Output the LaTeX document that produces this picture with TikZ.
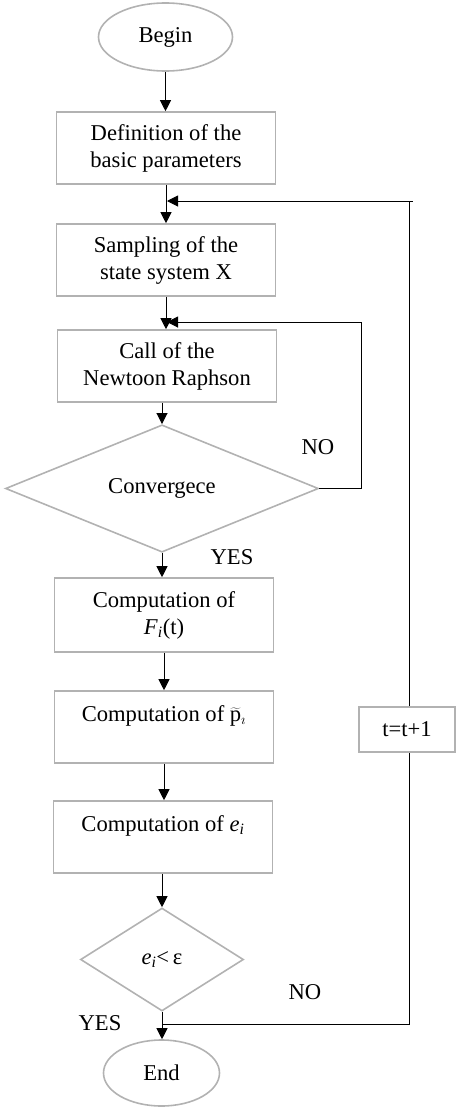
\documentclass[tikz,border=0pt]{standalone}
\usepackage{fontspec}
\setmainfont{Liberation Serif}
\usetikzlibrary{shapes.geometric,arrows.meta}
\definecolor{edgegray}{RGB}{178,178,178}
\tikzset{
  base/.style={draw=edgegray,line width=1.6pt,font=\fontsize{22.6}{27}\selectfont,align=center,inner sep=0pt},
  procbox/.style={base,rectangle,minimum width=219pt,minimum height=72pt},
  term/.style={base,ellipse},
  decision/.style={base,diamond},
  arr/.style={line width=1pt,-{Triangle[length=11pt,width=11pt]}},
  ln/.style={line width=1pt},
  lbl/.style={font=\fontsize{22.6}{27}\selectfont,inner sep=0pt}
}
\begin{document}
\begin{tikzpicture}[x=1pt,y=-1pt]
\useasboundingbox (0,0) rectangle (457,1109);
\node[term,minimum width=134pt,minimum height=68pt] (begin) at (165.5,37) {Begin};
\node[procbox] (b1) at (166,148) {Definition of the\\basic parameters};
\node[procbox] (b2) at (166,260) {Sampling of the\\state system X};
\node[procbox] (b3) at (167,366) {Call of the\\Newtoon Raphson};
\node[decision,minimum width=313pt,minimum height=103pt] (conv) at (162,488.5) {Convergece};
\node[procbox,minimum height=74pt] (b4) at (164,615) {Computation of\\\textit{F}\textsubscript{\textit{i}}(t)};
\node[procbox] (b5) at (164,727) {Computation of $\widetilde{\mathrm{p}}_{\mathrm{\imath}}$\\\mbox{}};
\node[procbox] (b6) at (163,837) {Computation of \textit{e}\textsubscript{\textit{i}}\\\mbox{}};
\node[decision,minimum width=163pt,minimum height=103pt] (d2) at (162,959.5) {\textit{e}\textsubscript{\textit{i}}<\,ε};
\node[term,minimum width=116pt,minimum height=66pt] (end) at (161.5,1073) {End};
\node[procbox,minimum width=96pt,minimum height=45pt] (tb) at (407,729.5) {t=t+1};
\node[lbl] (no1) at (318,447) {NO};
\node[lbl] (yes1) at (232,557) {YES};
\node[lbl] (no2) at (305,992) {NO};
\node[lbl] (yes2) at (100,1023) {YES};
\coordinate (loopA) at (361,488.5);
\coordinate (loopB) at (361,322);
\coordinate (loopC) at (167,322);
\coordinate (topA) at (409,201);
\coordinate (topB) at (167,201);
\coordinate (botA) at (409,1024);
\coordinate (botB) at (162,1024);
\draw[arr] (begin.south) -- (b1.north -| begin.south);
\draw[arr] (b1.south) -- (b2.north);
\draw[arr] (b2.south) -- (b3.north -| b2.south);
\draw[arr] (b3.south -| conv.north) -- (conv.north);
\draw[arr] (conv.south) -- (b4.north -| conv.south);
\draw[arr] (b4.south) -- (b5.north);
\draw[arr] (b5.south) -- (b6.north -| b5.south);
\draw[arr] (b6.south -| d2.north) -- (d2.north);
\draw[arr] (d2.south) -- (end.north -| d2.south);
\draw[ln] (conv.east) -- (loopA) -- (loopB);
\draw[arr] (loopB) -- (loopC);
\draw[ln] (tb.north -| topA) -- (topA) -- (413,201);
\draw[arr] (topA) -- (topB);
\draw[ln] (tb.south -| botA) -- (botA) -- (botB);
\end{tikzpicture}
\end{document}
